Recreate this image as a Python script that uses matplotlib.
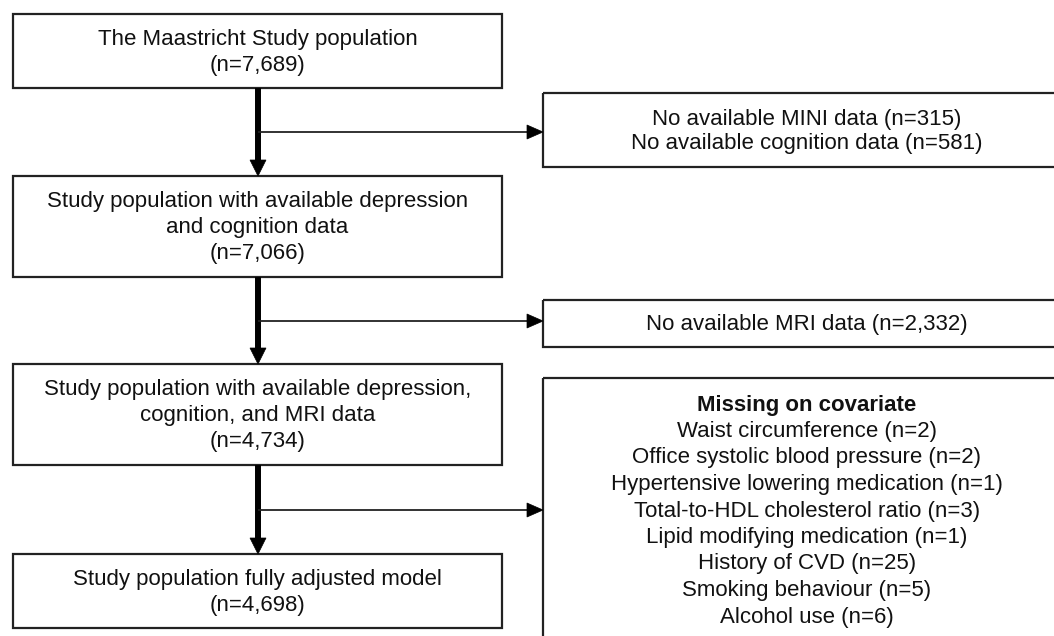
import matplotlib
matplotlib.use("Agg")
import matplotlib.pyplot as plt
from matplotlib.patches import Rectangle, Polygon

# ---- data ----
main_labels = [
    ["The Maastricht Study population"],
    ["Study population with available depression", "and cognition data"],
    ["Study population with available depression,", "cognition, and MRI data"],
    ["Study population fully adjusted model"],
]
main_counts = [7689, 7066, 4734, 4698]

excl1_labels = ["No available MINI data", "No available cognition data"]
excl1_counts = [315, 581]
excl2_labels = ["No available MRI data"]
excl2_counts = [2332]
cov_title = "Missing on covariate"
cov_labels = ["Waist circumference", "Office systolic blood pressure",
              "Hypertensive lowering medication", "Total-to-HDL cholesterol ratio",
              "Lipid modifying medication", "History of CVD",
              "Smoking behaviour", "Alcohol use"]
cov_counts = [2, 2, 1, 3, 1, 25, 5, 6]

# ---- layout (pixel coordinates) ----
W, H = 1054, 636
fig = plt.figure(figsize=(W / 100, H / 100), dpi=100)
ax = fig.add_axes([0, 0, 1, 1])
ax.set_xlim(0, W)
ax.set_ylim(H, 0)
ax.axis("off")

FONT = "Liberation Sans"
FS = 16
TC = "#111111"
EC = "#222222"

left_x0, left_x1 = 13, 502
main_boxes = [(14, 88), (176, 277), (364, 465), (554, 628)]
right_x0, right_x1 = 543, 1060
right_boxes = [(93, 167), (300, 347), (378, 660)]
branch_y = [132, 321, 510]
vx = 258


def box(x0, x1, y0, y1):
    ax.add_patch(Rectangle((x0, y0), x1 - x0, y1 - y0, fill=False,
                           ec=EC, lw=1.6, zorder=2))


def lines(xc, yc, texts, spacing):
    n = len(texts)
    for i, t in enumerate(texts):
        y = yc + (i - (n - 1) / 2) * spacing
        ax.text(xc, y, t, ha="center", va="center", fontsize=FS,
                family=FONT, color=TC)


# main boxes
lx = (left_x0 + left_x1) / 2
for (y0, y1), lab, n in zip(main_boxes, main_labels, main_counts):
    box(left_x0, left_x1, y0, y1)
    lines(lx, (y0 + y1) / 2 + 1, lab + [f"(n={n:,})"], 26)

# right boxes
rx = 807
b0 = right_boxes[0]
box(right_x0, right_x1, *b0)
lines(rx, (b0[0] + b0[1]) / 2 + 1,
      [f"{l} (n={c:,})" for l, c in zip(excl1_labels, excl1_counts)], 24)
b1 = right_boxes[1]
box(right_x0, right_x1, *b1)
lines(rx, (b1[0] + b1[1]) / 2 + 1,
      [f"{l} (n={c:,})" for l, c in zip(excl2_labels, excl2_counts)], 24)
b2 = right_boxes[2]
box(right_x0, right_x1, *b2)
cov_texts = [cov_title] + [f"{l} (n={c})" for l, c in zip(cov_labels, cov_counts)]
for i, t in enumerate(cov_texts):
    ax.text(rx, 405 + i * 26.5, t, ha="center", va="center", fontsize=FS,
            family=FONT, color=TC, weight="bold" if i == 0 else "normal")

# vertical thick arrows
for (a0, a1), (b0_, b1_) in zip(main_boxes[:-1], main_boxes[1:]):
    top, bot = a1, b0_
    ax.plot([vx, vx], [top, bot - 14], color="black", lw=4.3,
            solid_capstyle="butt", zorder=3)
    ax.add_patch(Polygon([(vx - 8, bot - 16), (vx + 8, bot - 16), (vx, bot)],
                         closed=True, fc="black", ec="black", lw=0.5, zorder=3))

# horizontal thin arrows
for by in branch_y:
    ax.plot([vx, right_x0 - 14], [by, by], color="#222222", lw=1.3,
            solid_capstyle="butt", zorder=3)
    ax.add_patch(Polygon([(right_x0 - 16, by - 7), (right_x0 - 16, by + 7),
                          (right_x0, by)], closed=True, fc="black",
                         ec="black", lw=0.5, zorder=3))

fig.savefig("out.png", dpi=100, facecolor="white")
